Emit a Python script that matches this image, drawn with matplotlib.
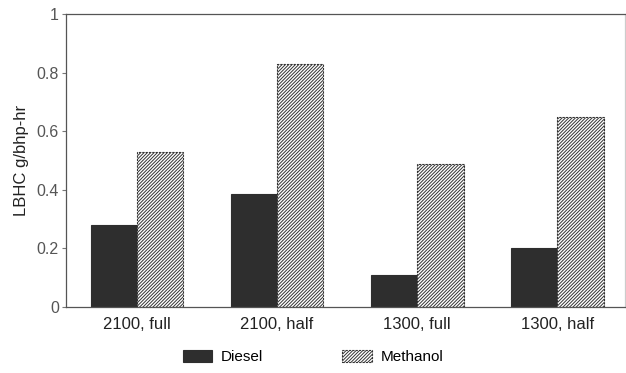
import matplotlib.pyplot as plt
import numpy as np

# LBHC emissions per operating condition
conditions = ['2100, full', '2100, half', '1300, full', '1300, half']
diesel = [0.28, 0.385, 0.11, 0.20]
methanol = [0.53, 0.83, 0.49, 0.65]

plt.rcParams['font.family'] = ['Liberation Sans', 'DejaVu Sans']
plt.rcParams['hatch.linewidth'] = 0.7

fig = plt.figure(figsize=(6.26, 3.73), dpi=100)
ax = fig.add_axes([0.105, 0.177, 0.893, 0.785])

x = np.arange(len(conditions))
w = 0.33
ax.bar(x - w / 2, diesel, w, color='#2e2e2e', edgecolor='#2e2e2e',
       linewidth=0.8, label='Diesel')
ax.bar(x + w / 2, methanol, w, color='white', edgecolor='#333333',
       hatch='//////////', linewidth=0.8, linestyle=(0, (2, 1)), label='Methanol')

ax.set_xlim(-0.507, 3.48)
ax.set_ylim(0, 1)
ax.set_xticks(x)
ax.set_xticklabels(conditions, fontsize=12, color='#222222')
ax.set_yticks([0, 0.2, 0.4, 0.6, 0.8, 1])
ax.set_yticklabels(['0', '0.2', '0.4', '0.6', '0.8', '1'], fontsize=11.5, color='#555555')
ax.tick_params(axis='x', length=0, pad=7)
ax.tick_params(axis='y', length=3, width=0.8, color='#777777', pad=2)
ax.set_ylabel('LBHC g/bhp-hr', fontsize=12, color='#222222', labelpad=5)

for side in ['left', 'top', 'bottom', 'right']:
    ax.spines[side].set_color('#555555')
    ax.spines[side].set_linewidth(0.9)
ax.spines['right'].set_color('#cccccc')

fig.legend(loc='center', bbox_to_anchor=(0.5, 0.043), ncol=2, frameon=False,
           fontsize=11, handlelength=1.9, handleheight=0.8, handletextpad=0.6,
           columnspacing=5.2)

fig.savefig('out.png', dpi=100)
